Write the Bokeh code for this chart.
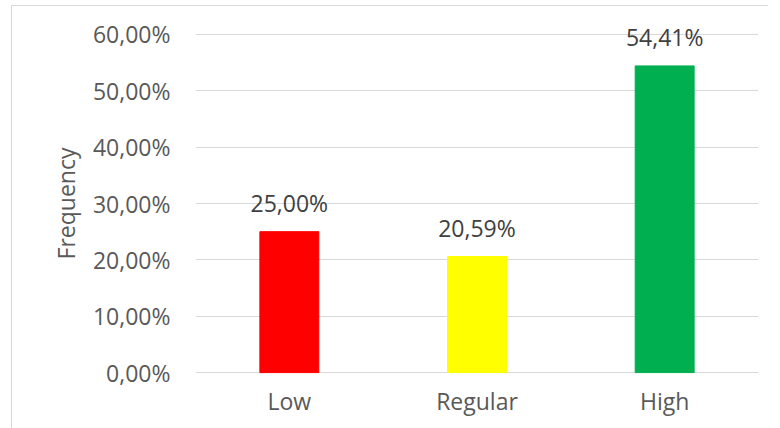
from bokeh.plotting import figure
from bokeh.models import FixedTicker, ColumnDataSource, Label
from bokeh.embed import file_html
from bokeh.resources import INLINE

categories = ["Low", "Regular", "High"]
frequencies = [0.2500, 0.2059, 0.5441]
bar_colors = ["#FF0000", "#FFFF00", "#00B050"]
y_ticks = [0.0, 0.1, 0.2, 0.3, 0.4, 0.5, 0.6]
y_tick_labels = ["0,00%", "10,00%", "20,00%", "30,00%", "40,00%", "50,00%", "60,00%"]

FONT = "Open Sans"
SIZE = "23px"

source = ColumnDataSource(dict(cat=categories, freq=frequencies, color=bar_colors))

# the frame is padded equally above 60% and below 0% so that the value
# label of the tallest bar has room and the axis title stays centred
p = figure(
    x_range=categories, y_range=(-0.03, 0.63),
    frame_width=563, frame_height=372,
    output_backend="svg", toolbar_location=None,
    min_border_left=183, min_border_right=10,
    min_border_top=11, min_border_bottom=39,
)
# light chart-area border on the left and top edges
p.styles = {
    "margin-left": "11px", "margin-top": "5px",
    "border-left": "1px solid #D9D9D9", "border-top": "1px solid #D9D9D9",
}

p.vbar(x="cat", top="freq", bottom=0, width=0.314, color="color", source=source)

# value labels above each bar;
# a categorical axis places factor i at synthetic coordinate i + 0.5
for i, freq in enumerate(frequencies):
    p.add_layout(Label(
        x=i + 0.5, y=freq, text=f"{freq * 100:.2f}%".replace(".", ","),
        text_align="center", text_baseline="alphabetic", y_offset=29,
        text_font=FONT, text_font_size=SIZE, text_color="#404040",
    ))

p.outline_line_color = None
p.xgrid.grid_line_color = None
p.ygrid.grid_line_color = "#D9D9D9"
p.ygrid.grid_line_width = 1

p.yaxis.ticker = FixedTicker(ticks=y_ticks)
p.yaxis.major_label_overrides = dict(zip(y_ticks, y_tick_labels))
p.yaxis.axis_line_color = None
p.yaxis.major_tick_line_color = None
p.yaxis.major_tick_out = 0
p.yaxis.major_tick_in = 0
p.yaxis.minor_tick_line_color = None
p.yaxis.minor_tick_out = 0
p.yaxis.major_label_standoff = 25
p.yaxis.major_label_text_font = FONT
p.yaxis.major_label_text_font_size = SIZE
p.yaxis.major_label_text_color = "#595959"
p.yaxis.axis_label = "Frequency"
p.yaxis.axis_label_text_font = FONT
p.yaxis.axis_label_text_font_size = SIZE
p.yaxis.axis_label_text_font_style = "normal"
p.yaxis.axis_label_text_color = "#595959"
p.yaxis.axis_label_standoff = 8

# the 0% grid line serves as the category axis line
p.xaxis.axis_line_color = None
p.xaxis.major_tick_line_color = None
p.xaxis.major_tick_out = 0
p.xaxis.major_tick_in = 0
p.xaxis.major_label_standoff = -5
p.xaxis.major_label_text_font = FONT
p.xaxis.major_label_text_font_size = SIZE
p.xaxis.major_label_text_color = "#595959"

open("out.html", "w").write(file_html(p, INLINE))
